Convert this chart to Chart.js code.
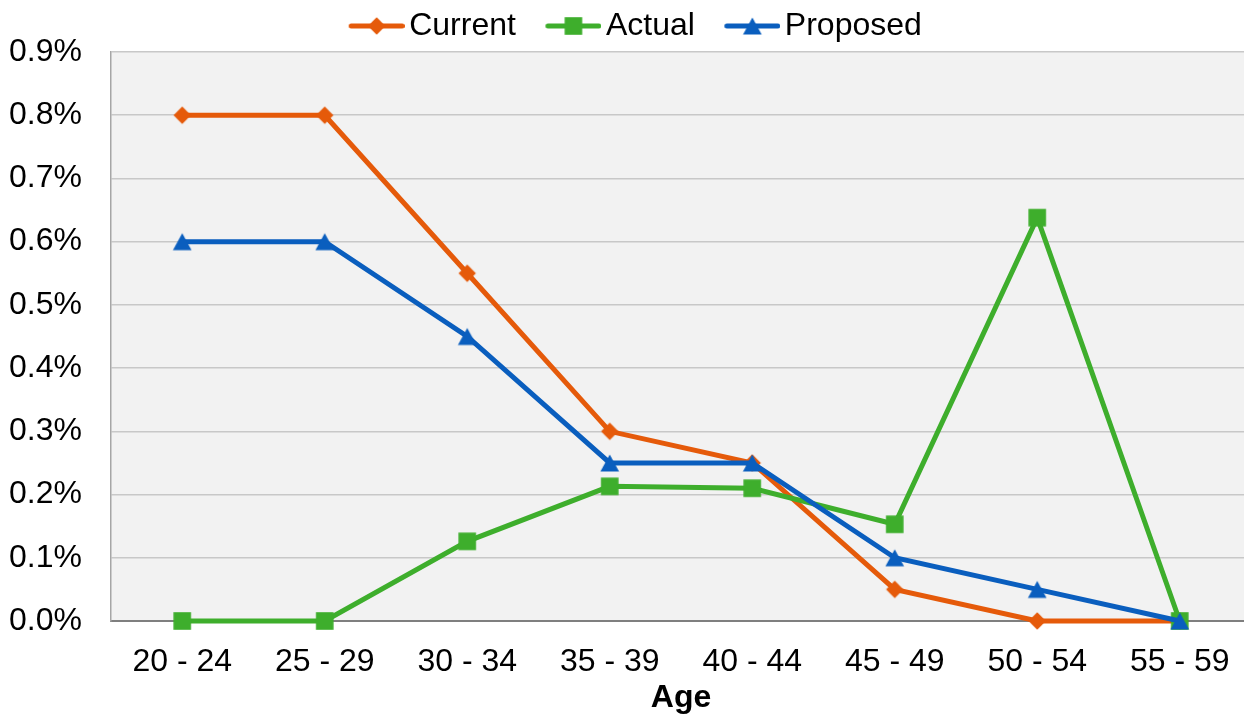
<!DOCTYPE html>
<html>
<head>
<meta charset="utf-8">
<title>Rates by Age</title>
<script src="https://cdn.jsdelivr.net/npm/chart.js@4/dist/chart.umd.min.js"></script>
<style>
  html, body { margin: 0; padding: 0; background: #ffffff; overflow: hidden; }
  canvas { display: block; }
</style>
</head>
<body>
<canvas id="chart" width="1252" height="715" style="width:1252px;height:715px"></canvas>
<script>
// Age bands on the x axis
const ageBands = ['20 - 24', '25 - 29', '30 - 34', '35 - 39', '40 - 44', '45 - 49', '50 - 54', '55 - 59'];

// Rates in percent
const currentRates  = [0.80, 0.80, 0.55, 0.30, 0.25, 0.05, 0.00, 0.00];
const actualRates   = [0.00, 0.00, 0.126, 0.213, 0.210, 0.153, 0.638, 0.00];
const proposedRates = [0.60, 0.60, 0.45, 0.25, 0.25, 0.10, 0.05, 0.00];

// Y axis range (percent)
const yTicksMax = 0.9;
const yTicksStep = 0.1;

const FONT = "'Liberation Sans', Arial, sans-serif";
const FS = 32;

const COLORS = {
  current: '#E55A0A',
  actual: '#3EAE2C',
  proposed: '#0A5EBE'
};

// Marker shapes drawn onto small canvases so they sit centred on each point
function drawMarker(ctx, shape, cx, cy, color) {
  ctx.fillStyle = color;
  ctx.beginPath();
  if (shape === 'diamond') {
    const h = 8.7;
    ctx.moveTo(cx, cy - h); ctx.lineTo(cx + h, cy); ctx.lineTo(cx, cy + h); ctx.lineTo(cx - h, cy);
  } else if (shape === 'square') {
    const s = 8.8;
    ctx.rect(cx - s, cy - s, 2 * s, 2 * s);
  } else {
    const hw = 9.3, hh = 8.5;
    ctx.moveTo(cx, cy - hh); ctx.lineTo(cx + hw, cy + hh); ctx.lineTo(cx - hw, cy + hh);
  }
  ctx.closePath();
  ctx.fill();
}

function markerImage(color, shape) {
  const c = document.createElement('canvas');
  c.width = 20; c.height = 20;
  drawMarker(c.getContext('2d'), shape, 10, 10, color);
  return c;
}

// Legend swatch: a short line with the series marker in its middle
const BOX_W = 64;
function legendSwatch(color, shape) {
  const c = document.createElement('canvas');
  const w = BOX_W + 23;
  c.width = w; c.height = 26;
  const ctx = c.getContext('2d');
  const x0 = w - 56, x1 = w, cx = (x0 + x1) / 2, cy = 13;
  ctx.strokeStyle = color;
  ctx.lineWidth = 5;
  ctx.lineCap = 'round';
  ctx.beginPath(); ctx.moveTo(x0 + 2.5, cy); ctx.lineTo(x1 - 2.5, cy); ctx.stroke();
  drawMarker(ctx, shape, cx, cy, color);
  return c;
}

const plotBackground = {
  id: 'plotBackground',
  beforeDraw(chart) {
    const { ctx, chartArea: a } = chart;
    ctx.save();
    ctx.fillStyle = '#F2F2F2';
    ctx.fillRect(a.left, a.top, a.right - a.left, a.bottom - a.top);
    ctx.restore();
  }
};

const datasets = [
  { label: 'Current', data: currentRates, color: COLORS.current, shape: 'diamond', order: 3 },
  { label: 'Actual', data: actualRates, color: COLORS.actual, shape: 'square', order: 2 },
  { label: 'Proposed', data: proposedRates, color: COLORS.proposed, shape: 'triangle', order: 1 }
].map(d => ({
  label: d.label,
  data: d.data,
  order: d.order,
  borderColor: d.color,
  backgroundColor: d.color,
  borderWidth: 5,
  pointStyle: markerImage(d.color, d.shape),
  pointRadius: 10,
  pointBorderWidth: 0,
  pointBackgroundColor: d.color,
  tension: 0,
  clip: false,
  swatch: legendSwatch(d.color, d.shape)
}));

new Chart(document.getElementById('chart'), {
  type: 'line',
  data: { labels: ageBands, datasets: datasets },
  options: {
    responsive: false,
    animation: false,
    layout: { autoPadding: false, padding: { top: 0, left: 0, right: 1, bottom: 0 } },
    plugins: {
      tooltip: { enabled: false },
      legend: {
        position: 'top',
        align: 'center',
        labels: {
          usePointStyle: true,
          pointStyleWidth: BOX_W,
          padding: 10,
          color: '#000000',
          font: { family: FONT, size: FS },
          sort: (a, b) => a.datasetIndex - b.datasetIndex,
          generateLabels(chart) {
            const items = Chart.defaults.plugins.legend.labels.generateLabels(chart);
            items.forEach(it => { it.pointStyle = chart.data.datasets[it.datasetIndex].swatch; });
            return items;
          }
        }
      }
    },
    scales: {
      x: {
        type: 'category',
        offset: true,
        grid: { display: false, drawTicks: false },
        border: { display: true, color: '#7F7F7F', width: 2 },
        ticks: { color: '#000000', font: { family: FONT, size: FS }, padding: 22, maxRotation: 0, autoSkip: false },
        title: { display: true, text: 'Age', color: '#000000', font: { family: FONT, size: FS, weight: 'bold' }, padding: { top: 0, bottom: -2 } },
        afterFit(scale) {
          scale.height = 94;
          // labels sit inside the offset bands, so no side padding is needed
          scale.paddingLeft = 0;
          scale.paddingRight = 0;
        }
      },
      y: {
        min: 0,
        max: yTicksMax,
        grid: { color: '#C8C8C8', lineWidth: 1.5, drawTicks: false },
        border: { display: true, color: '#A6A6A6', width: 1.5 },
        ticks: {
          stepSize: yTicksStep,
          color: '#000000',
          font: { family: FONT, size: FS },
          padding: 29,
          callback: v => v.toFixed(1) + '%'
        },
        afterFit(scale) { scale.width = 111; }
      }
    }
  },
  plugins: [plotBackground]
});
</script>
</body>
</html>
